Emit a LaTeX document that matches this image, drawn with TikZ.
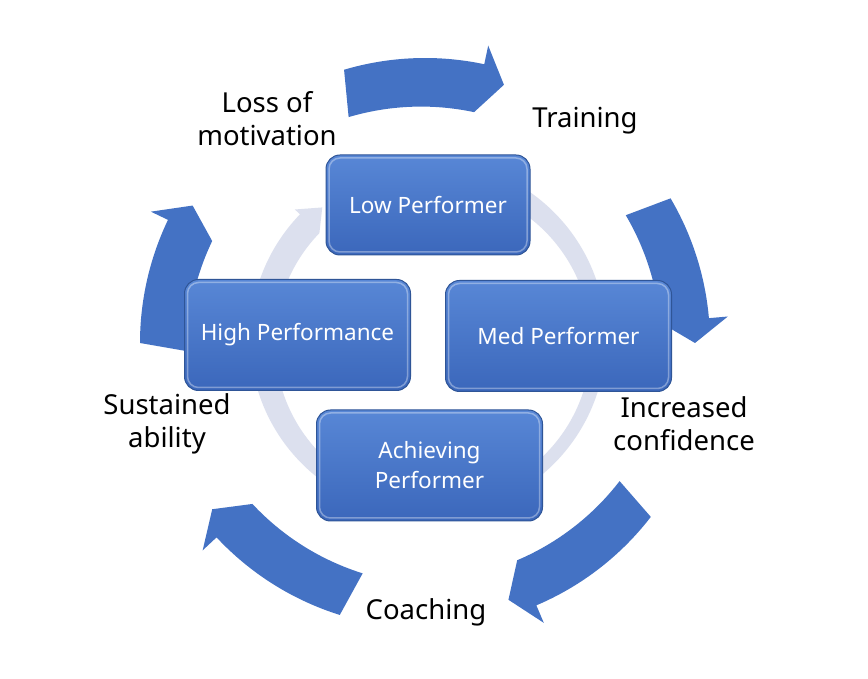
\documentclass[tikz,border=0pt]{standalone}
\usepackage{fontspec}
\setmainfont{Noto Sans}
\definecolor{arrowblue}{HTML}{4472C4}
\definecolor{ringc}{HTML}{DCE0EE}
\definecolor{boxtop}{HTML}{5887D6}
\definecolor{boxbot}{HTML}{3B67BB}
\definecolor{boxedge}{HTML}{2F5597}
\newcommand\cycarrow[2]{%
  \fill[arrowblue] (#1:285) arc[start angle=#1, end angle=#2+5, radius=285]
    -- (#2+5:304) -- (#2:270) -- (#2+5:236)
    arc[start angle=#2+5, end angle=#1, radius=255] -- cycle;}
\tikzset{
  pbox/.style={rounded corners=14, draw=boxedge, line width=1pt,
    top color=boxtop, bottom color=boxbot, text=white, align=center,
    font=\fontsize{22.5}{30}\selectfont, inner sep=0pt,
    minimum width=226pt, minimum height=111pt,
    path picture={\draw[white, opacity=0.35, line width=1.5pt, rounded corners=11]
      ([shift={(3pt,-3pt)}]path picture bounding box.north west) rectangle
      ([shift={(-3pt,3pt)}]path picture bounding box.south east);}},
  lbl/.style={text=black, align=center, font=\fontsize{27.5}{33}\selectfont, inner sep=0pt}
}
\begin{document}
\begin{tikzpicture}[x=1pt,y=1pt]
\useasboundingbox[fill=white] (0,0) rectangle (868,678);
% outer cycle arrows
\begin{scope}[shift={(425,335)}]
  \cycarrow{106.5}{73}
  \cycarrow{30.5}{0}
  \cycarrow{-37.6}{-72}
  \cycarrow{-107.4}{-142}
  \cycarrow{180}{149.4}
\end{scope}
% inner ring arrow
\begin{scope}[shift={(428,340)}]
  \fill[ringc] (95:178) arc[start angle=95, end angle=-224, radius=178]
    -- (-224:185) -- (-231:168) -- (-224:151)
    arc[start angle=-224, end angle=95, radius=158] -- cycle;
\end{scope}
% boxes
\node[pbox, minimum width=204pt, minimum height=100pt] (low) at (428,473) {Low Performer};
\node[pbox] (high) at (297.5,343) {High Performance};
\node[pbox] (med) at (558.5,342) {Med Performer};
\node[pbox] (ach) at (429.5,212.5) {Achieving\\Performer};
% labels
\node[lbl] (lloss) at (267,559) {Loss of\\motivation};
\node[lbl] (ltrain) at (585,557) {Training};
\node[lbl] (lconf) at (684,254) {Increased\\confidence};
\node[lbl] (lcoach) at (426,66) {Coaching};
\node[lbl] (lsust) at (167,254) {Sustained\\ability};
\end{tikzpicture}
\end{document}
